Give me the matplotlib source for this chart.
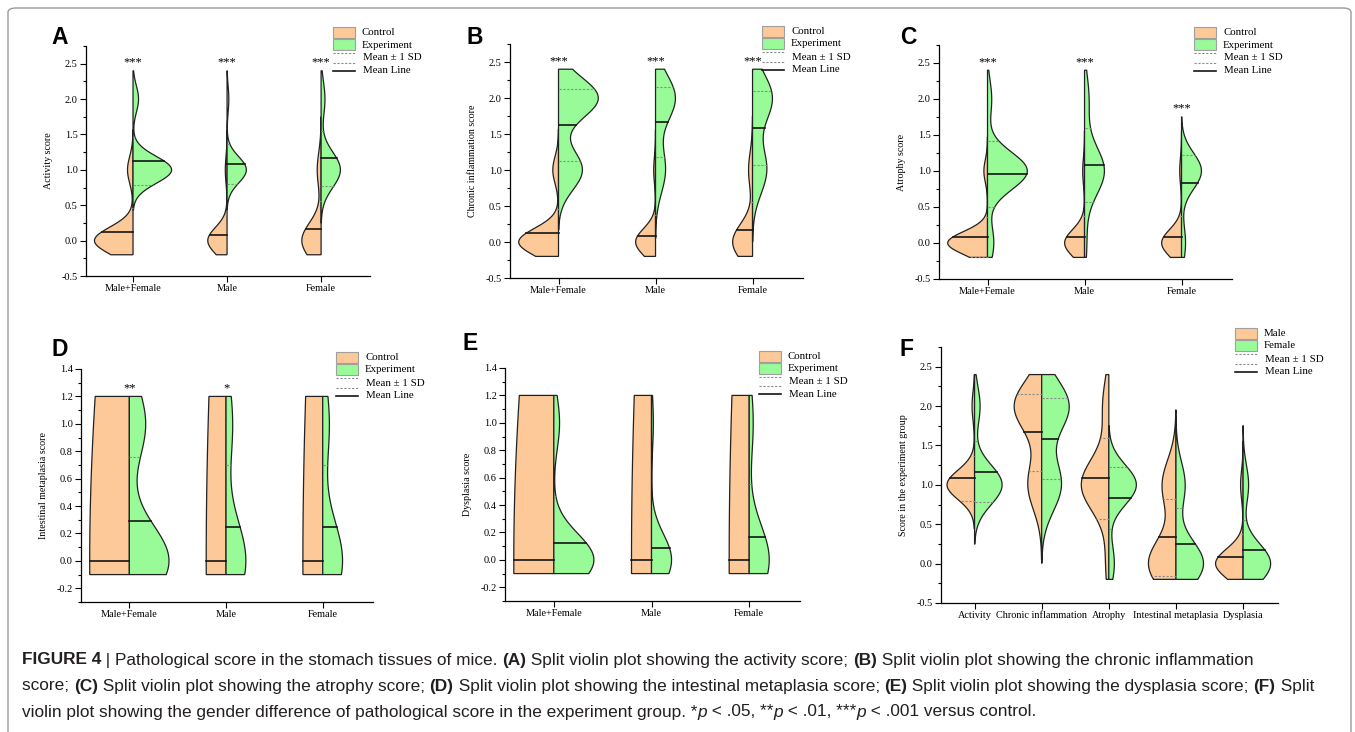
import numpy as np
import matplotlib
matplotlib.use("Agg")
import matplotlib.pyplot as plt
from matplotlib.patches import FancyBboxPatch, Rectangle
from matplotlib.lines import Line2D
from matplotlib.ticker import MultipleLocator, FormatStrFormatter

W, H = 1355, 732
SCORES = [0, 1, 2]
cols3 = ["Male+Female", "Male", "Female"]
cols5 = ["Activity", "Chronic inflammation", "Atrophy", "Intestinal metaplasia", "Dysplasia"]

# number of mice at score 0 / 1 / 2 (one row per column of the panel)
act_ctrl = [[21, 3, 0], [11, 1, 0], [10, 2, 0]]
act_exp = [[0, 21, 3], [0, 11, 1], [0, 10, 2]]
chr_ctrl = [[21, 3, 0], [11, 1, 0], [10, 2, 0]]
chr_exp = [[0, 9, 15], [0, 4, 8], [0, 5, 7]]
atr_ctrl = [[22, 2, 0], [11, 1, 0], [11, 1, 0]]
atr_exp = [[3, 19, 2], [1, 9, 2], [2, 10, 0]]
im_ctrl = [[24, 0, 0], [12, 0, 0], [12, 0, 0]]
im_exp = [[17, 7, 0], [9, 3, 0], [9, 3, 0]]
dys_ctrl = [[24, 0, 0], [12, 0, 0], [12, 0, 0]]
dys_exp = [[21, 3, 0], [11, 1, 0], [10, 2, 0]]

# experiment group split by gender (panel F)
f_male = [[0, 11, 1], [0, 4, 8], [1, 9, 2], [8, 4, 0], [11, 1, 0]]
f_female = [[0, 10, 2], [0, 5, 7], [2, 10, 0], [9, 3, 0], [10, 2, 0]]

sig_a = ["***", "***", "***"]
sig_b = ["***", "***", "***"]
sig_c = ["***", "***", "***"]
sig_d = ["**", "*", ""]
sig_e = ["", "", ""]

ORANGE = "#FDC998"
GREEN = "#98FB98"
EDGE = "#222222"
SERIF = "Liberation Serif"
SANS = "Liberation Sans"

fig = plt.figure(figsize=(W / 100, H / 100), dpi=100)


def px_rect(x0, y0, x1, y1):
    return [x0 / W, 1 - y1 / H, (x1 - x0) / W, (y1 - y0) / H]


def half_violin(ax, pos, counts, side, color, n_ref, clip, hw=0.41):
    vals = np.repeat(SCORES, counts).astype(float)
    n = len(vals)
    sd = vals.std(ddof=1)
    if sd > 0:
        bw = 1.06 * sd * n ** -0.2
        lo, hi = vals.min() - 3 * bw, vals.max() + 3 * bw
    else:
        bw = 2.2
        lo, hi = clip
    lo, hi = max(lo, clip[0]), min(hi, clip[1])
    y = np.linspace(lo, hi, 300)
    d = np.exp(-0.5 * ((y[:, None] - vals[None, :]) / bw) ** 2).sum(1)
    w = hw * (n / n_ref) * d / d.max()
    sgn = -1 if side == "left" else 1
    xs = np.concatenate([[pos], pos + sgn * w, [pos]])
    ys = np.concatenate([[lo], y, [hi]])
    ax.fill(xs, ys, facecolor=color, edgecolor=EDGE, lw=0.9, zorder=2)
    m = vals.mean()
    if sd > 0:
        for v in (m - sd, m + sd):
            if lo < v < hi:
                ax.plot([pos, pos + sgn * np.interp(v, y, w)], [v, v], ls=(0, (2, 1.5)),
                        color="#8a8a8a", lw=0.8, zorder=3)
    ax.plot([pos, pos + sgn * np.interp(m, y, w)], [m, m], color="#151515", lw=1.2, zorder=4)
    return hi


def setup(ax, ylim, major, minor, ylabel, labels, xlim):
    ax.set_ylim(*ylim)
    ax.set_xlim(*xlim)
    for s in ["top", "right"]:
        ax.spines[s].set_visible(False)
    for s in ["left", "bottom"]:
        ax.spines[s].set_linewidth(0.9)
    ax.yaxis.set_major_locator(MultipleLocator(major))
    ax.yaxis.set_minor_locator(MultipleLocator(minor))
    ax.yaxis.set_major_formatter(FormatStrFormatter("%.1f"))
    ax.set_xticks(np.arange(1, len(labels) + 1))
    ax.set_xticklabels(labels, fontfamily=SERIF, fontsize=7.4)
    ax.tick_params(direction="out", length=4, width=0.8, labelsize=7.4, pad=2)
    ax.tick_params(which="minor", length=2, width=0.8)
    ax.tick_params(axis="x", which="minor", bottom=False)
    for t in ax.get_yticklabels():
        t.set_fontfamily(SERIF)
    ax.set_ylabel(ylabel, fontfamily=SERIF, fontsize=7.2, labelpad=6)


def legend(x0, y0, names):
    fx = lambda x: x / W
    fy = lambda y: 1 - y / H
    for i, c in enumerate([ORANGE, GREEN]):
        top = y0 + i * 12.5
        fig.add_artist(Rectangle((fx(x0), fy(top + 10.5)), 22 / W, 10.5 / H, transform=fig.transFigure,
                                 facecolor=c, edgecolor="#a0a0a0", lw=0.8))
        fig.text(fx(x0 + 29), fy(top + 5.5), names[i], fontfamily=SERIF, fontsize=7.8, va="center")
    for yy in (y0 + 25.5, y0 + 35.5):
        fig.add_artist(Line2D([fx(x0), fx(x0 + 22)], [fy(yy), fy(yy)], transform=fig.transFigure,
                              ls=(0, (2, 1.5)), color="#8a8a8a", lw=0.8))
    fig.text(fx(x0 + 30), fy(y0 + 31), "Mean \u00b1 1 SD", fontfamily=SERIF, fontsize=7.8, va="center")
    fig.add_artist(Line2D([fx(x0), fx(x0 + 22)], [fy(y0 + 43.5)] * 2, transform=fig.transFigure,
                          color="#151515", lw=1.2))
    fig.text(fx(x0 + 30), fy(y0 + 43.5), "Mean Line", fontfamily=SERIF, fontsize=7.8, va="center")


def split_panel(rect, ctrl, exp, sig, ylabel, ylim, major, minor, clip):
    ax = fig.add_axes(px_rect(*rect))
    n_ref = max(sum(c) for c in ctrl + exp)
    for i in range(3):
        h1 = half_violin(ax, i + 1, ctrl[i], "left", ORANGE, n_ref, clip)
        h2 = half_violin(ax, i + 1, exp[i], "right", GREEN, n_ref, clip)
        if sig[i]:
            ax.annotate(sig[i], (i + 1, max(h1, h2)), xytext=(0, 6), textcoords="offset points",
                        ha="center", va="center", fontsize=9, fontfamily=SERIF)
    setup(ax, ylim, major, minor, ylabel, cols3, (0.5, 3.52))
    return ax


split_panel((86, 46, 370, 276), act_ctrl, act_exp, sig_a, "Activity score", (-0.5, 2.75), 0.5, 0.25, (-0.2, 2.4))
split_panel((510, 44, 803, 278), chr_ctrl, chr_exp, sig_b, "Chronic inflammation score", (-0.5, 2.75), 0.5, 0.25, (-0.2, 2.4))
split_panel((939, 45, 1232, 279), atr_ctrl, atr_exp, sig_c, "Atrophy score", (-0.5, 2.75), 0.5, 0.25, (-0.2, 2.4))
split_panel((81, 369, 373, 602), im_ctrl, im_exp, sig_d, "Intestinal metaplasia score", (-0.3, 1.4), 0.2, 0.1, (-0.1, 1.2))
split_panel((505, 368, 800, 601), dys_ctrl, dys_exp, sig_e, "Dysplasia score", (-0.3, 1.4), 0.2, 0.1, (-0.1, 1.2))

axf = fig.add_axes(px_rect(941, 347, 1278, 603))
for i in range(5):
    half_violin(axf, i + 1, f_male[i], "left", ORANGE, 12, (-0.2, 2.4))
    half_violin(axf, i + 1, f_female[i], "right", GREEN, 12, (-0.2, 2.4))
setup(axf, (-0.5, 2.75), 0.5, 0.25, "Score in the experiment group", cols5, (0.5, 5.52))

legend(333, 27, ["Control", "Experiment"])
legend(762, 26, ["Control", "Experiment"])
legend(1194, 27, ["Control", "Experiment"])
legend(336, 352, ["Control", "Experiment"])
legend(759, 351, ["Control", "Experiment"])
legend(1235, 328, ["Male", "Female"])

for letter, x, y in [("A", 60, 38), ("B", 475, 37), ("C", 908, 38), ("D", 60, 350), ("E", 470, 343), ("F", 906, 350)]:
    fig.text(x / W, 1 - y / H, letter, fontfamily=SANS, fontweight="bold", fontsize=16.5, ha="center", va="center")

# outer frame
fig.add_artist(FancyBboxPatch((8 / W, -0.05), (1343 / W), 1.05 - 8 / H, boxstyle="round,pad=0,rounding_size=0.006",
                              transform=fig.transFigure, facecolor="none", edgecolor="#9a9a9a", lw=1.0))

# caption, laid out piece by piece
caption = [
    [("FIGURE 4", "bold", "normal"), (" | ", "normal", "normal"),
     ("Pathological score in the stomach tissues of mice. ", "normal", "normal"), ("(A)", "bold", "normal"),
     (" Split violin plot showing the activity score; ", "normal", "normal"), ("(B)", "bold", "normal"),
     (" Split violin plot showing the chronic inflammation", "normal", "normal")],
    [("score; ", "normal", "normal"), ("(C)", "bold", "normal"),
     (" Split violin plot showing the atrophy score; ", "normal", "normal"), ("(D)", "bold", "normal"),
     (" Split violin plot showing the intestinal metaplasia score; ", "normal", "normal"), ("(E)", "bold", "normal"),
     (" Split violin plot showing the dysplasia score; ", "normal", "normal"), ("(F)", "bold", "normal"),
     (" Split", "normal", "normal")],
    [("violin plot showing the gender difference of pathological score in the experiment group. *", "normal", "normal"),
     ("p", "normal", "italic"), (" < .05, **", "normal", "normal"), ("p", "normal", "italic"),
     (" < .01, ***", "normal", "normal"), ("p", "normal", "italic"), (" < .001 versus control.", "normal", "normal")],
]
line_y = [660, 686, 712]
renderer = fig.canvas.get_renderer()
for parts, ly in zip(caption, line_y):
    x = 22 / W
    for txt, wgt, sty in parts:
        t = fig.text(x, 1 - ly / H, txt, fontfamily=SANS, fontweight=wgt, fontstyle=sty,
                     fontsize=12.4, va="center", ha="left", color="#231f20")
        bb = t.get_window_extent(renderer)
        x = bb.x1 / W

fig.savefig("out.png", dpi=100)
